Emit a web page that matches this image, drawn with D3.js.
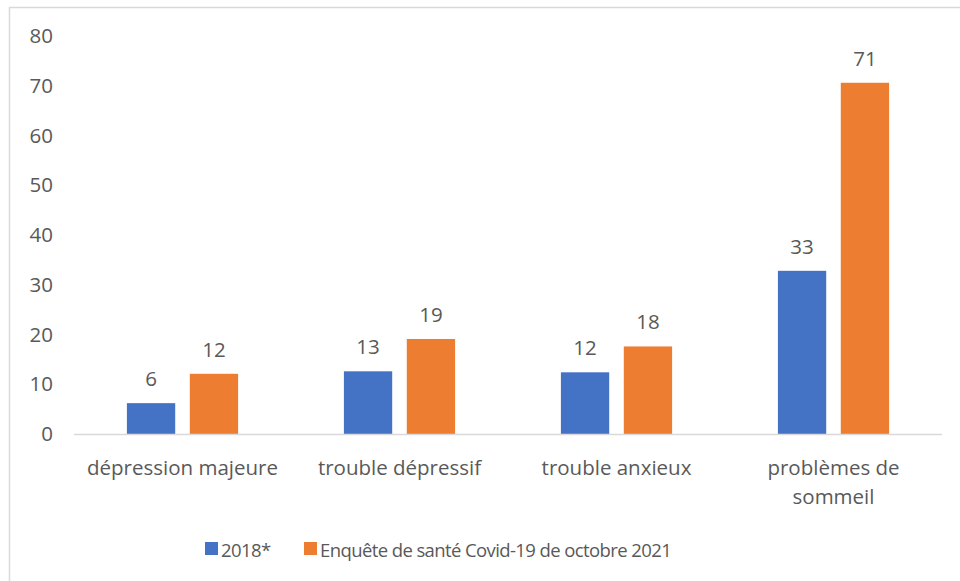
<!DOCTYPE html>
<html>
<head>
<meta charset="utf-8">
<script src="https://cdn.jsdelivr.net/npm/d3@7"></script>
<style>
  html, body { margin: 0; padding: 0; background: #fff; }
  svg { display: block; font-family: "Open Sans", "Noto Sans", sans-serif; }
  .tick text, .cat-label, .value-label, .legend-label { fill: #595959; }
</style>
</head>
<body>
<svg id="chart" width="960" height="581"></svg>
<script>
const categories = [["dépression majeure"], ["trouble dépressif"], ["trouble anxieux"], ["problèmes de", "sommeil"]];
const seriesNames = ["2018*", "Enquête de santé Covid-19 de octobre 2021"];
const values2018 = [6.2, 12.6, 12.4, 32.8];
const values2021 = [12.1, 19.1, 17.6, 70.6];
const labels2018 = ["6", "13", "12", "33"];
const labels2021 = ["12", "19", "18", "71"];
const yTicks = [0, 10, 20, 30, 40, 50, 60, 70, 80];
const colors = ["#4472C4", "#ED7D31"];

const svg = d3.select("#chart");
const W = 960, H = 581;
const plot = { left: 74, right: 942, top: 36, bottom: 434 };
const fontSize = 20.5;

// chart frame (only left and top edges are inside the picture)
svg.append("rect")
  .attr("x", 9.5).attr("y", 7.5)
  .attr("width", W + 20).attr("height", H + 20)
  .attr("fill", "#fff").attr("stroke", "#d9d9d9").attr("stroke-width", 1.5);

const catKeys = categories.map((c) => c.join(" "));
const x0 = d3.scaleBand().domain(catKeys).range([plot.left, plot.right]).padding(0);
const x1 = d3.scaleBand().domain(seriesNames).range([0, x0.bandwidth()])
  .paddingInner(0.232).paddingOuter(0.841);
const y = d3.scaleLinear().domain([0, 80]).range([plot.bottom, plot.top]);

// y axis labels only
const yAxis = svg.append("g")
  .attr("transform", `translate(${plot.left - 21},0)`)
  .call(d3.axisLeft(y).tickValues(yTicks).tickSize(0).tickPadding(0));
yAxis.select(".domain").remove();
yAxis.selectAll("text").attr("font-size", fontSize).attr("font-family", "Open Sans").attr("fill", "#595959");

const rows = catKeys.map((k, i) => ({
  key: k,
  lines: categories[i],
  bars: [
    { series: seriesNames[0], value: values2018[i], label: labels2018[i], color: colors[0] },
    { series: seriesNames[1], value: values2021[i], label: labels2021[i], color: colors[1] }
  ]
}));

const groups = svg.selectAll("g.cat").data(rows).join("g")
  .attr("class", "cat")
  .attr("transform", (d) => `translate(${x0(d.key)},0)`);

groups.selectAll("rect").data((d) => d.bars).join("rect")
  .attr("x", (b) => x1(b.series))
  .attr("width", x1.bandwidth())
  .attr("y", (b) => y(b.value))
  .attr("height", (b) => y(0) - y(b.value))
  .attr("fill", (b) => b.color);

groups.selectAll("text.value-label").data((d) => d.bars).join("text")
  .attr("class", "value-label")
  .attr("x", (b) => x1(b.series) + x1.bandwidth() / 2)
  .attr("y", (b) => y(b.value) - 25)
  .attr("text-anchor", "middle")
  .attr("dominant-baseline", "central")
  .attr("font-size", fontSize)
  .text((b) => b.label);

// baseline
svg.append("line")
  .attr("x1", plot.left).attr("x2", plot.right)
  .attr("y1", y(0) + 0.5).attr("y2", y(0) + 0.5)
  .attr("stroke", "#d9d9d9").attr("stroke-width", 1.5);

// category labels
groups.each(function (d) {
  const t = d3.select(this).append("text")
    .attr("class", "cat-label")
    .attr("text-anchor", "middle")
    .attr("font-size", fontSize);
  d.lines.forEach((line, j) => {
    t.append("tspan")
      .attr("x", x0.bandwidth() / 2)
      .attr("y", 467 + j * 28.5)
      .attr("dominant-baseline", "central")
      .text(line);
  });
});

// legend
const legend = svg.append("g").attr("transform", "translate(205,549)");
let lx = 0;
seriesNames.forEach((name, i) => {
  const item = legend.append("g").attr("transform", `translate(${lx},0)`);
  item.append("rect").attr("x", 0).attr("y", -7).attr("width", 13).attr("height", 13).attr("fill", colors[i]);
  item.append("text")
    .attr("class", "legend-label")
    .attr("x", 16).attr("y", 0)
    .attr("dominant-baseline", "central")
    .attr("font-size", 18.5)
    .attr("letter-spacing", -0.6)
    .text(name);
  lx += 99;
});
</script>
</body>
</html>
